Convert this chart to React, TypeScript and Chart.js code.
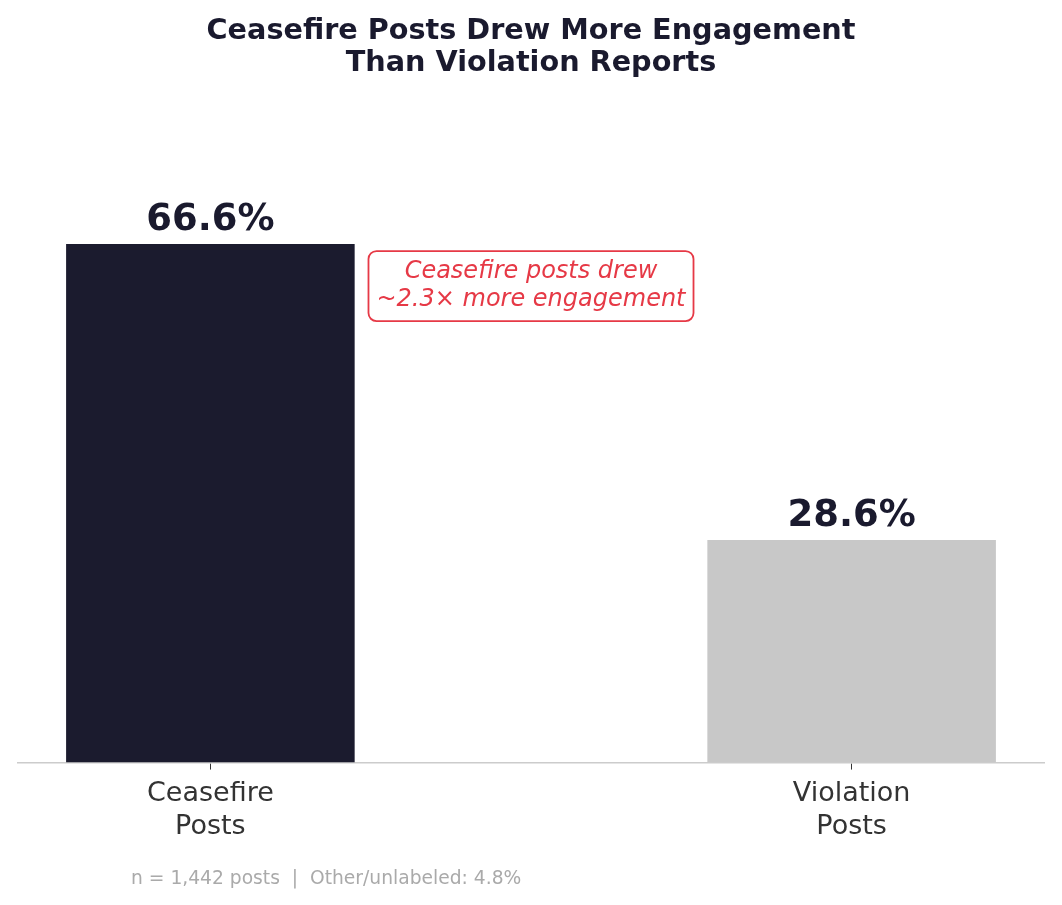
import React, { useEffect, useRef } from "react";
import { Chart, registerables } from "chart.js";

Chart.register(...registerables);

const categories: string[][] = [["Ceasefire", "Posts"], ["Violation", "Posts"]];
const values: number[] = [66.6, 28.6];
const barColors: string[] = ["#1b1b2e", "#c8c8c8"];
const titleLines: string[] = ["Ceasefire Posts Drew More Engagement", "Than Violation Reports"];
const annotationLines: string[] = ["Ceasefire posts drew", "~2.3\u00d7 more engagement"];
const annotationPos = { x: 0.5, y: 61.2 };
const footerText = "n = 1,442 posts  |  Other/unlabeled: 4.8%";

const FONT = "'DejaVu Sans', sans-serif";

export default function App() {
  const ref = useRef<HTMLCanvasElement | null>(null);

  useEffect(() => {
    if (!ref.current) return;

    const overlay = {
      id: "overlay",
      afterDatasetsDraw(chart: any) {
        const ctx = chart.ctx;
        const xs = chart.scales.x;
        const ys = chart.scales.y;
        const meta = chart.getDatasetMeta(0);
        ctx.save();
        // value labels
        ctx.font = `bold 37px ${FONT}`;
        ctx.fillStyle = "#1a1a2e";
        ctx.textAlign = "center";
        ctx.textBaseline = "alphabetic";
        meta.data.forEach((bar: any, i: number) => {
          ctx.fillText(values[i].toFixed(1) + "%", bar.x, bar.y - 14);
        });
        // annotation box
        ctx.font = `italic 24px ${FONT}`;
        const cx = xs.getPixelForValue(annotationPos.x);
        const cy = ys.getPixelForValue(annotationPos.y);
        const lh = 28;
        const w = Math.max(...annotationLines.map((l) => ctx.measureText(l).width)) + 16;
        const h = lh * annotationLines.length + 14;
        const x0 = cx - w / 2;
        const y0 = cy - h / 2;
        ctx.beginPath();
        ctx.roundRect(x0, y0, w, h, 8);
        ctx.fillStyle = "#ffffff";
        ctx.fill();
        ctx.lineWidth = 1.8;
        ctx.strokeStyle = "#e63946";
        ctx.stroke();
        ctx.fillStyle = "#e63946";
        ctx.textBaseline = "middle";
        annotationLines.forEach((l, i) => {
          ctx.fillText(l, cx, cy + (i - (annotationLines.length - 1) / 2) * lh);
        });
        // footer
        ctx.font = `18.7px ${FONT}`;
        ctx.fillStyle = "#aaaaaa";
        ctx.textAlign = "left";
        ctx.textBaseline = "middle";
        ctx.fillText(footerText, 123, 871);
        ctx.restore();
      },
    };

    const chart = new Chart(ref.current, {
      type: "bar",
      data: {
        datasets: [
          {
            data: values.map((v, i) => ({ x: i, y: v })),
            backgroundColor: barColors,
            borderWidth: 0,
            categoryPercentage: 0.45,
            barPercentage: 1.0,
          },
        ],
      },
      options: {
        animation: false,
        responsive: true,
        maintainAspectRatio: false,
        layout: { padding: { left: 10, right: 10, top: 0, bottom: 45 } },
        plugins: {
          legend: { display: false },
          tooltip: { enabled: false },
          title: {
            display: true,
            text: titleLines,
            color: "#1a1a2e",
            font: { family: FONT, size: 28.7, weight: "bold", lineHeight: 1.11 },
            padding: { top: 8, bottom: 60 },
          },
        },
        scales: {
          x: {
            type: "linear",
            offset: false,
            min: -0.3,
            max: 1.3,
            afterBuildTicks: (scale: any) => {
              scale.ticks = categories.map((_, i) => ({ value: i }));
            },
            ticks: {
              autoSkip: false,
              maxRotation: 0,
              color: "#333333",
              padding: 8,
              font: { family: FONT, size: 27, lineHeight: 1.23 },
              callback: (value: any) => categories[Math.round(Number(value))] ?? "",
            },
            grid: {
              offset: false,
              drawOnChartArea: false,
              drawTicks: true,
              tickLength: 7,
              color: "#333333",
            },
            border: { display: true, color: "#cccccc", width: 1.5 },
          },
          y: {
            display: false,
            min: 0,
            max: 80,
          },
        },
      },
      plugins: [overlay],
    });
    return () => chart.destroy();
  }, []);

  return (
    <div style={{ width: 1046, height: 889, position: "relative" }}>
      <canvas ref={ref} />
    </div>
  );
}
